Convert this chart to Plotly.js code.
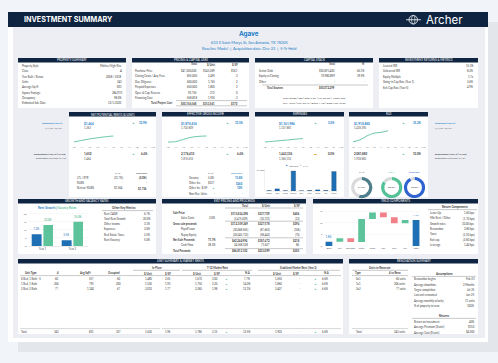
<!DOCTYPE html>
<html><head><meta charset="utf-8">
<script src="https://cdn.plot.ly/plotly-3.0.1.min.js"></script>
<style>html,body{margin:0;padding:0;background:#f1f5f9;overflow:hidden}#c{width:498px;height:363px}</style>
</head><body><div id="c"></div><script>
// ---------------- DATA ----------------
const propertyName="Agave";
const propertyAddress="633 S Saint Marys St, San Antonio, TX 78205";
const propertySubtitle="Baseline Model  |  Acquisition date: Dec-22  |  5-Yr Hold";
const propertyLabels=["Property Style","Class","Year Built / Renov.","Units","Average Sq/ft","Square Footage","Occupancy","Estimated Sale Date"];
const propertyValues=["Midrise/High-Rise","A","2008 / 2018","343","831","284,970","98.0%","12/1/2022"];
const pricingHeaders=["Total","$/Unit","$/SF"];
const pricingLabels=["Purchase Price","Closing Costs / Acq. Fees","Due Diligence","Prepaid Expenses","Oper. & Cap. Reserve","Financing Cost","Total Project Cost"];
const pricingTotal=["$47,300,000","855,000","600,000","650,000","92,750","658,818","$50,156,568"];
const pricingPerUnit=["$145,289","2,495","1,765","1,805","272","1,935","$153,561"];
const pricingPerSF=["$161","3","2","2","0","2","$170"];
const stackHeaders=["Total","%"];
const stackLabels=["Senior Debt","Equity at Closing","Other","Total Sources"];
const stackTotal=["$30,091,400","19,980,899","-","$50,072,299"];
const stackPct=["60.1%","39.9%","-",""];
const debtNotes=["Type: Bridge | Tpp | Rate: 6.3% | I/O: 60 mo. | Amort: 360","LTV: 40.2% | LTC: 35.1% | DSCR 1.40x | Debt Yield 10.0%"];
const returnLabels=["Levered IRR","Unlevered IRR","Equity Multiple","Going-in Cap Rate (Year 1)","Exit Cap Rate (Year 5)"];
const returnValues=["15.3%","8.2%","1.7x","3.6%","4.9%"];
const sideLabels=["Stabilized (Year 3)","7/1/27 Y6/Y6Y","Disposition (Year 5) | CAGR","Disposition Forward (2-Mo)"];
const kpiTitles=["NET POTENTIAL RENTS ($/UNIT)","EFFECTIVE GROSS INCOME","EXPENSES","NOI"];
const kpiStab=["$1,464","$1,876,616","$1,161,986","$1,918,860"];
const kpiT12=["1,262","1,702,809","1,107,883","1,418,390"];
const kpiStabChange=["10.9%","10.5%","5.0%","35.2%"];
const kpiDisp=["1,650","2,176,410","1,443,336","2,081,880"];
const kpiDispSub=["1,464","1,876,616","1,366,110","1,918,860"];
const kpiDispChange=["6.4%","6.4%","0.0%","10.0%"];
const kpiDispDir=["up","up","flat","up"];
const years=["Y0","Y1","Y2","Y3","Y4","Y5","Y6","Y7","Y8","Y9","Y10"];
const nprSpark=[1262,1318,1366,1404,1438,1464];
const egiSpark=[1.70,1.71,1.78,1.84,1.87,1.88];
const expSpark=[1.108,1.118,1.129,1.140,1.151,1.162];
const noiSpark=[0.60,0.82,1.30,1.62,1.72,1.92];
const nprRowLabels=["LTL / RTR","RUBS","Rent w/ RUBS"];
const nprT12=["(31.7%)","-","$1,564"];
const nprStab=["(0.0%)","-","$1,736"];
const egiRowLabels=["Vacancy","Other Inc.","Other Inc. $/SF","Non-Rev. Units"];
const egiT12=["5.0%","$237","▲","-"];
const egiStab=["15.8%","$260","10%","-"];
const expCats=["admin","r&m","mktg","payroll","G&A","utils","contr","ins","taxes"];
const expStabilized=[60,420,50,3900,30,80,220,90,3800];
const expT12=[120,160,110,150,90,140,180,120,140];
const occLabels=["T-12","Year 1","Stabilized"];
const occValues=[54.5,85.0,93.0];
const growthCats=["Year 1","Year 2"];
const rentGrowth=[7.2,3.5];
const vacancyRates=[13.0,15.0];
const metricLabels=["Rent CAGR","Total Rent Growth","Other income","Expenses","Real Estate Taxes","Rent Vacancy"];
const metricValues=["6.7%","20.0%","3.1%","3.0%","2.5%","5.0%"];
const exitHeaders=["Total","$/Unit","$/SF"];
const exitLabels=["Sale Price","Sales Costs","Gross sale proceeds","Payoff Loan","Repay Equity","Net Sale Proceeds","Cash Flow","Total Proceeds"];
const exitPct=["","3.0%","","","","71.7%","28.3%",""];
const exitTotal=["$115,834,298","(3,475,029)","$112,359,269","(30,068,565)","(20,045,710)","$62,244,994","24,568,108","$86,813,102"];
const exitUnit=["$337,709","(10,131)","$327,578","(87,663)","(58,442)","$181,472","71,627","$253,099"];
const exitSF=["$406","(12)","$394","(106)","(70)","$218","86","$305"];
const yieldCats=["Base","LTL","Bus/Bus","Grow","Reno","Tax","Exit","Lev","Total"];
const yieldMeasures=["absolute","relative","relative","relative","relative","relative","relative","relative","total"];
const yieldValues=[1.8,1.6,-1.7,10.0,2.8,-2.1,-2.6,1.4,0];
const compLabels=["Lease-Up","Mkt Rent / Other","Growth rates","Renovation","Taxes","Exit cap","Leverage"];
const unitTypes=["0 Bed, 1 Bath - S","1 Bed, 1 Bath","2 Bed, 2 Bath"];
const unitCount=["60","206","77"];
const unitSqft=["557","795","1,140"];
const unitOccupied=["60","200","67"];
const inPlaceUnit=["1,480","1,530","2,010"];
const inPlaceSF=["2.65","1.93","1.77"];
const t12Unit=["1,670","1,750","2,260"];
const t12SF=["3.00","2.20","1.98"];
const t12Pct=["7.7%","14.0%","12.1%"];
const stabUnit=["1,650","1,860","2,407"];
const stabSF=["-","-","-"];
const stabPct=["6.6%","6.6%","6.6%"];
const unitTotal=["Total","343","831","327","1,630","1.96","1,786","2.15","12.5%","1,903","-","6.6%"];
const renoTypes=["0x1","1x1","2x2"];
const renoUnits=[60,206,77];
const assumpLabels=["Renovation begins","Average downtime","Target completion","Last unit renovated","Average monthly velocity","% of property to reno"];
const assumpValues=["Feb-23","2 Months","Jul-25","Jun-25","11 units","100%"];
const renoReturnLabels=["Return on investment","Average Premium ($/unit)","Average Cost ($/unit)"];
const renoReturnValues=["40%","$150","$4,500"];

// ---------------- HELPERS ----------------
const W=498,H=363;
const X=v=>v/W, Y=v=>1-v/H;
const shapes=[],ann=[],traces=[];
const NAVY='#0e2440',BLUE='#1c7cc7',BAR='#1f6fb5',GREEN='#55c197',RED='#f28089',TXT='#3a3a3a';
const FONT='Lato, "Open Sans", sans-serif';
function R(x0,y0,x1,y1,fill,lc,lw){shapes.push({type:'rect',xref:'paper',yref:'paper',layer:'below',x0:X(x0),x1:X(x1),y0:Y(y1),y1:Y(y0),fillcolor:fill,line:{color:lc||'rgba(0,0,0,0)',width:lw||0}});}
function L(x0,y0,x1,y1,c,w){shapes.push({type:'line',xref:'paper',yref:'paper',layer:'below',x0:X(x0),x1:X(x1),y0:Y(y0),y1:Y(y1),line:{color:c||'#9a9a9a',width:w||0.4}});}
function T(x,y,s,o){o=o||{};ann.push({xref:'paper',yref:'paper',x:X(x),y:Y(y),text:o.b?'<b>'+s+'</b>':s,showarrow:false,xanchor:o.a||'left',yanchor:'middle',borderpad:0,font:{family:o.f||FONT,size:o.s||2.7,color:o.c||TXT}});}
function panel(x0,y0,x1,y1,title){R(x0,y0,x1,y1,'#ffffff');R(x0,y0,x1,y0+4.6,NAVY);T((x0+x1)/2,y0+2.4,title,{a:'center',s:2.9,c:'#ffffff'});}

// ---------------- FRAME ----------------
R(18,22,498,352,'#e3e6ea');
R(8,12,488,342,'#ffffff');
R(13,27,485,338,'#eceef3');
R(8,12,488,27,NAVY);
T(23,19.8,'INVESTMENT SUMMARY',{b:1,s:7.2,c:'#ffffff',f:'Inter, sans-serif'});
shapes.push({type:'circle',xref:'paper',yref:'paper',layer:'below',x0:X(409),x1:X(417.5),y0:Y(24),y1:Y(15.5),line:{color:'#ffffff',width:0.8}});
shapes.push({type:'circle',xref:'paper',yref:'paper',layer:'below',x0:X(411.5),x1:X(415),y0:Y(24),y1:Y(15.5),line:{color:'#ffffff',width:0.6}});
L(406,19.75,421,19.75,'#ffffff',0.8);
T(425,19.6,'Archer',{s:11.5,c:'#ffffff',f:'Inter, sans-serif'});
T(249,34,propertyName,{a:'center',b:1,s:6.3,c:BLUE,f:'Inter, sans-serif'});
T(249,42,propertyAddress,{a:'center',s:3.9,c:BLUE});
T(249,48.8,propertySubtitle,{a:'center',s:3.9,c:BLUE});

// ---------------- ROW 1 ----------------
panel(18,58,126,108,'PROPERTY SUMMARY');
propertyLabels.forEach((l,i)=>{const y=66+i*5.3;T(21,y,l);T(123,y,propertyValues[i],{a:'right'});});

panel(132,58,249,108,'PRICING & CAPITAL USES');
[198,216,239].forEach((x,j)=>T(x,64.5,pricingHeaders[j],{a:'right',b:1}));
pricingLabels.forEach((l,i)=>{const y=71+i*5.4;const b=i===pricingLabels.length-1;
  T(b?150:134,y,l,{b:b});T(198,y,pricingTotal[i],{a:'right',b:b});T(216,y,pricingPerUnit[i],{a:'right',b:b});T(239,y,pricingPerSF[i],{a:'right',b:b});});
L(176,100.6,247,100.6,'#777',0.4);L(176,105.8,247,105.8,'#777',0.4);

panel(255,58,373,108,'CAPITAL STACK');
T(336,64.5,stackHeaders[0],{a:'right',b:1});T(366,64.5,stackHeaders[1],{a:'right',b:1});
stackLabels.forEach((l,i)=>{const y=[71,76.3,81.6,87.6][i];const b=i===3;
  T(b?266:258,y,l,{b:b});T(336,y,stackTotal[i],{a:'right',b:b});T(366,y,stackPct[i],{a:'right',b:b});});
L(262,85,368,85,'#777',0.4);
T(314,98.2,debtNotes[0],{a:'center',s:2.5});T(314,103.3,debtNotes[1],{a:'center',s:2.5});

panel(379,58,478,108,'INVESTMENT RETURNS & METRICS');
returnLabels.forEach((l,i)=>{const y=66+i*5.3;T(382,y,l);T(475,y,returnValues[i],{a:'right'});});

// ---------------- ROW 2 ----------------
T(64,123,sideLabels[0],{a:'right',c:BLUE,b:1,s:2.6});T(64,128,sideLabels[1],{a:'right',s:2.5,c:'#555'});
T(67,154,sideLabels[2],{a:'right',b:1,s:2.6});T(67,158.5,sideLabels[3],{a:'right',s:2.5,c:'#555'});
T(434,123,sideLabels[0],{c:BLUE,b:1,s:2.6});T(434,128,sideLabels[1],{s:2.5,c:'#555'});
T(434,154,sideLabels[2],{b:1,s:2.6});T(434,158.5,sideLabels[3],{s:2.5,c:'#555'});

const kx0=[69,162,255,349],kx1=[156,249,344,428];
const vX=[83,180,278,353],triX=[133,227,315,403],chgX=[149,245,336,423];
kpiTitles.forEach((t,i)=>{
  panel(kx0[i],112,kx1[i],197,t);
  T(vX[i],123,kpiStab[i],{c:BLUE,b:1,s:3.1});
  T(vX[i],128.3,kpiT12[i],{c:'#555',s:2.7});
  T(triX[i],123,'▲',{c:GREEN,s:2.8,a:'center'});
  T(chgX[i],123,kpiStabChange[i],{c:BLUE,b:1,s:2.8,a:'right'});
  T(vX[i],154,kpiDisp[i],{b:1,s:2.9});
  T(vX[i],158.5,kpiDispSub[i],{c:'#555',s:2.7});
  const up=kpiDispDir[i]==='up';
  T(triX[i],154,up?'▲':'▬',{c:up?GREEN:'#f0a030',s:2.8,a:'center'});
  T(chgX[i],154,kpiDispChange[i],{b:1,s:2.8,a:'right'});
});
T(118,172.5,'T-12',{a:'center',s:2.6});T(141,172.5,'Stabilized',{a:'center',s:2.6});
nprRowLabels.forEach((l,i)=>{const y=177.8+i*5.3;T(76,y,l);T(124,y,nprT12[i],{a:'right'});T(148,y,nprStab[i],{a:'right',b:1});});
T(211,172.5,'T-12',{a:'center',s:2.6});T(236,172.5,'Stabilized',{a:'center',s:2.6,c:BLUE});
egiRowLabels.forEach((l,i)=>{const y=177.8+i*5.3;T(188,y,l);
  T(216,y,egiT12[i],{a:'right',c:egiT12[i]==='▲'?GREEN:TXT});T(244,y,egiStab[i],{a:'right',b:1,c:BLUE});});

const sparkDefs=[{d:nprSpark,x0:74,x1:152.7,p0:142,p1:136},{d:egiSpark,x0:168,x1:245,p0:142,p1:136},
  {d:expSpark,x0:265,x1:340.7,p0:142,p1:138.5},{d:noiSpark,x0:353,x1:423,p0:141.7,p1:130.7}];
const spTop=129,spBot=144.5;
const layout={width:W,height:H,margin:{l:0,r:0,t:0,b:0},paper_bgcolor:'#f1f5f9',plot_bgcolor:'rgba(0,0,0,0)',
  showlegend:false,barmode:'group',font:{family:FONT}};
sparkDefs.forEach((s,i)=>{
  const n=i+1,sx=n===1?'':String(n);
  const step=(s.x1-s.x0)/10,v=s.d,v0=v[0],v1=v[v.length-1];
  const f0=(spBot-s.p0)/(spBot-spTop),f1=(spBot-s.p1)/(spBot-spTop);
  const span=(v1-v0)/(f1-f0),a=v0-f0*span;
  layout['xaxis'+sx]={domain:[X(s.x0-step/2),X(s.x1+step/2)],range:[-0.5,10.5],tickvals:years.map((_,k)=>k),ticktext:years,tickangle:0,
    showgrid:false,zeroline:false,showline:false,ticks:'',tickfont:{size:2.5,color:'#666',family:FONT},anchor:'y'+sx,fixedrange:true};
  layout['yaxis'+sx]={domain:[Y(spBot),Y(spTop)],range:[a,a+span],visible:false,anchor:'x'+sx,fixedrange:true};
  traces.push({type:'scatter',mode:'lines',x:v.map((_,k)=>k),y:v,xaxis:'x'+sx,yaxis:'y'+sx,line:{color:'#5cc39b',width:0.9,shape:'spline'},hoverinfo:'skip'});
});

layout.xaxis5={domain:[X(265),X(338)],type:'category',tickangle:0,showgrid:false,zeroline:false,showline:true,linecolor:'#dddddd',linewidth:0.4,ticks:'',tickfont:{size:2.2,color:'#666'},anchor:'y5'};
layout.yaxis5={domain:[Y(191),Y(169)],range:[0,4300],tickvals:[4000],ticktext:['$4,000'],showgrid:false,zeroline:false,showline:true,linecolor:'#dddddd',linewidth:0.4,ticks:'',tickfont:{size:2.4,color:'#666'},anchor:'x5'};
traces.push({type:'bar',x:expCats,y:expT12,xaxis:'x5',yaxis:'y5',marker:{color:'#c9c9c9'},width:0.55,offset:-0.275,hoverinfo:'skip'});
traces.push({type:'bar',x:expCats,y:expStabilized,xaxis:'x5',yaxis:'y5',marker:{color:BAR,line:{color:'#10406e',width:0.3}},width:0.55,offset:-0.275,hoverinfo:'skip'});
T(285,166,'■',{c:BAR,s:2.4});T(287.5,166,'Stabilized',{s:2.3,c:'#666'});
T(299,166,'■',{c:'#c9c9c9',s:2.4});T(301.5,166,'T-12',{s:2.3,c:'#666'});

const occColors=['#4e7d8c',GREEN,'#2e63d0'];
const occCx=[361.7,391.7,414.5],occCy=187.5,occR=10.6;
occLabels.forEach((l,i)=>{
  traces.push({type:'pie',values:[occValues[i],100-occValues[i]],marker:{colors:[occColors[i],'#d9dadc'],line:{width:0}},hole:0.7,sort:false,direction:'clockwise',rotation:0,
    textinfo:'none',hoverinfo:'skip',showlegend:false,domain:{x:[X(occCx[i]-occR),X(occCx[i]+occR)],y:[Y(occCy+occR),Y(occCy-occR)]}});
  T(occCx[i],occCy,occValues[i].toFixed(1)+'%',{a:'center',s:2.6});
  T(occCx[i],172.4,l,{a:'center',s:2.5,c:i===0?'#555':occColors[i]});
});

panel(18,199,156,254,'GROWTH AND VACANCY RATES');
T(57,208,'<b><span style="color:'+BLUE+'">Rent Growth</span> | <span style="color:'+GREEN+'">Vacancy Rates</span></b>',{a:'center',s:3});
layout.xaxis6={domain:[X(27.5),X(87.5)],type:'category',range:[-0.5,1.5],tickangle:0,showgrid:false,zeroline:false,showline:false,ticks:'',tickfont:{size:2.7,color:'#555'},anchor:'y6'};
layout.yaxis6={domain:[Y(246),Y(212)],range:[0,21],tickvals:[0,5,10,15,20],ticksuffix:'%',showgrid:true,gridcolor:'#eeeeee',gridwidth:0.4,zeroline:true,zerolinecolor:'#cccccc',zerolinewidth:0.4,ticks:'',tickfont:{size:2.6,color:'#666'},anchor:'x6'};
traces.push({type:'bar',x:growthCats,y:rentGrowth,xaxis:'x6',yaxis:'y6',marker:{color:BAR},width:0.33,offset:-0.36,text:rentGrowth.map(v=>v.toFixed(1)+'%'),textposition:'outside',textfont:{size:2.7,color:BAR},cliponaxis:false,hoverinfo:'skip'});
traces.push({type:'bar',x:growthCats,y:vacancyRates,xaxis:'x6',yaxis:'y6',marker:{color:'#5cc39b'},width:0.32,offset:0.03,text:vacancyRates.map(v=>v.toFixed(1)+'%'),textposition:'outside',textfont:{size:2.7,color:'#3aa57a'},cliponaxis:false,hoverinfo:'skip'});
T(124,208,'Other Key Metrics',{a:'center',b:1,s:2.9});
L(102,210.6,153,210.6,'#777',0.4);
metricLabels.forEach((l,i)=>{const y=213.5+i*5.3;T(103,y,l);T(152,y,metricValues[i],{a:'right'});});

panel(162,199,306,254,'EXIT PRICING AND PROCEEDS');
[249,271,301].forEach((x,j)=>T(x,205.5,exitHeaders[j],{a:'right',b:1}));
const exitBold=[0,2,5,7],exitIndent=[1,3,4,6];
exitLabels.forEach((l,i)=>{const y=213+i*5.4;const b=exitBold.indexOf(i)>=0;
  T(exitIndent.indexOf(i)>=0?180:172,y,l,{b:b});if(exitPct[i])T(217,y,exitPct[i],{a:'right',b:b});
  T(249,y,exitTotal[i],{a:'right',b:b});T(271,y,exitUnit[i],{a:'right',b:b});T(301,y,exitSF[i],{a:'right',b:b});});
L(225,208,303,208,'#777',0.4);L(225,221.2,303,221.2,'#777',0.4);L(225,237.8,303,237.8,'#777',0.4);L(225,248.6,303,248.6,'#777',0.4);

panel(313,199,478,254,'YIELD COMPONENTS');
layout.xaxis7={domain:[X(323.5),X(421.5)],type:'category',tickangle:0,showgrid:false,zeroline:false,showline:false,ticks:'',tickfont:{size:2.4,color:'#555'},anchor:'y7'};
layout.yaxis7={domain:[Y(246),Y(209)],range:[0,16],tickvals:[0,5,10,15],ticksuffix:'%',showgrid:true,gridcolor:'#f0f0f0',gridwidth:0.4,zeroline:false,ticks:'',tickfont:{size:2.5,color:'#666'},anchor:'x7'};
const yieldTotal=yieldValues.slice(0,-1).reduce((a,b)=>a+b,0);
traces.push({type:'waterfall',x:yieldCats,y:yieldValues,measure:yieldMeasures,xaxis:'x7',yaxis:'y7',
  increasing:{marker:{color:'#5cc39b'}},decreasing:{marker:{color:RED}},totals:{marker:{color:BAR}},connector:{visible:false},
  text:yieldValues.map((v,i)=>i===0?v.toFixed(1)+'%':(i===yieldValues.length-1?yieldTotal.toFixed(1)+'%':'')),
  textposition:'outside',textfont:{size:2.7,color:BLUE},cliponaxis:false,hoverinfo:'skip'});
layout.waterfallgap=0.38;
T(455,207,'Return Components',{a:'center',b:1,s:2.9});
L(428,209.6,477,209.6,'#777',0.4);
compLabels.forEach((l,i)=>{const v=yieldValues[i+1];const y=213+i*5.35;
  T(429,y,l);T(476,y,v>=0?v.toFixed(2)+' bps':'('+(-v).toFixed(2)+' bps)',{a:'right'});});

panel(18,259,343,334,'UNIT SUMMARY & MARKET RENTS');
T(157,268,'In-Place',{a:'center',b:1});T(217,268,'T-12 Market Rent',{a:'center',b:1});T(298,268,'Stabilized Market Rent (Year 3)',{a:'center',b:1});
L(133,270.3,180,270.3,'#777',0.4);L(182,270.3,252,270.3,'#777',0.4);L(258,270.3,340,270.3,'#777',0.4);
const colH=['Unit Type','#','Avg SqFt','Occupied','$/Unit','$/SF','$/Unit','$/SF','% Δ','$/Unit','$/SF','% Δ'];
const colX=[31,58,85,114,148,168,197,217,247,277,296,326];
colH.forEach((h,j)=>T(colX[j],273.3,h,{a:'center',b:1}));
L(20,275.6,341,275.6,'#777',0.4);
unitTypes.forEach((u,i)=>{const y=278.8+i*5.3;
  T(20,y,u);T(60,y,unitCount[i],{a:'right'});T(95,y,unitSqft[i],{a:'right'});T(122,y,unitOccupied[i],{a:'right'});
  T(153,y,inPlaceUnit[i],{a:'right'});T(172,y,inPlaceSF[i],{a:'right'});T(203,y,t12Unit[i],{a:'right'});T(219,y,t12SF[i],{a:'right'});
  T(226,y,'▲',{a:'center',c:GREEN});T(252,y,t12Pct[i],{a:'right'});
  T(283,y,stabUnit[i],{a:'right'});T(301,y,stabSF[i],{a:'right'});T(315,y,'▲',{a:'center',c:GREEN});T(330,y,stabPct[i],{a:'right'});});
L(20,328.6,160,328.6,'#999',0.4);L(162,328.6,341,328.6,'#999',0.4);
{const y=332.2;T(20,y,unitTotal[0]);T(60,y,unitTotal[1],{a:'right'});T(95,y,unitTotal[2],{a:'right'});T(122,y,unitTotal[3],{a:'right'});
 T(153,y,unitTotal[4],{a:'right'});T(172,y,unitTotal[5],{a:'right'});T(203,y,unitTotal[6],{a:'right'});T(219,y,unitTotal[7],{a:'right'});
 T(226,y,'▲',{a:'center',c:GREEN});T(252,y,unitTotal[8],{a:'right'});T(283,y,unitTotal[9],{a:'right'});T(301,y,unitTotal[10],{a:'right'});
 T(315,y,'▲',{a:'center',c:GREEN});T(330,y,unitTotal[11],{a:'right'});}

panel(349,259,478,334,'RENOVATION SUMMARY');
T(380,268,'Units to Renovate',{a:'center',b:1});L(352,270.3,408,270.3,'#777',0.4);
T(358,273.3,'Type',{a:'center',b:1});T(395,273.3,'# to Reno',{a:'center',b:1});L(352,275.6,408,275.6,'#777',0.4);
renoTypes.forEach((t,i)=>{const y=278.8+i*5.3;T(355,y,t);T(407,y,renoUnits[i]+' units',{a:'right'});});
L(352,328.6,408,328.6,'#999',0.4);
T(355,332.2,'Total');T(407,332.2,renoUnits.reduce((a,b)=>a+b,0)+' units',{a:'right'});
T(444,274,'Assumptions',{a:'center',b:1,s:2.9});L(412,276.4,476,276.4,'#777',0.4);
assumpLabels.forEach((l,i)=>{const y=279.4+i*5.3;T(413,y,l);T(476,y,assumpValues[i],{a:'right'});});
T(444,316,'Returns',{a:'center',b:1,s:2.9});L(412,318.4,476,318.4,'#777',0.4);
renoReturnLabels.forEach((l,i)=>{const y=321.5+i*5.3;T(413,y,l);T(476,y,renoReturnValues[i],{a:'right'});});

layout.shapes=shapes;layout.annotations=ann;
Plotly.newPlot('c',traces,layout,{displayModeBar:false,staticPlot:true});
</script></body></html>
